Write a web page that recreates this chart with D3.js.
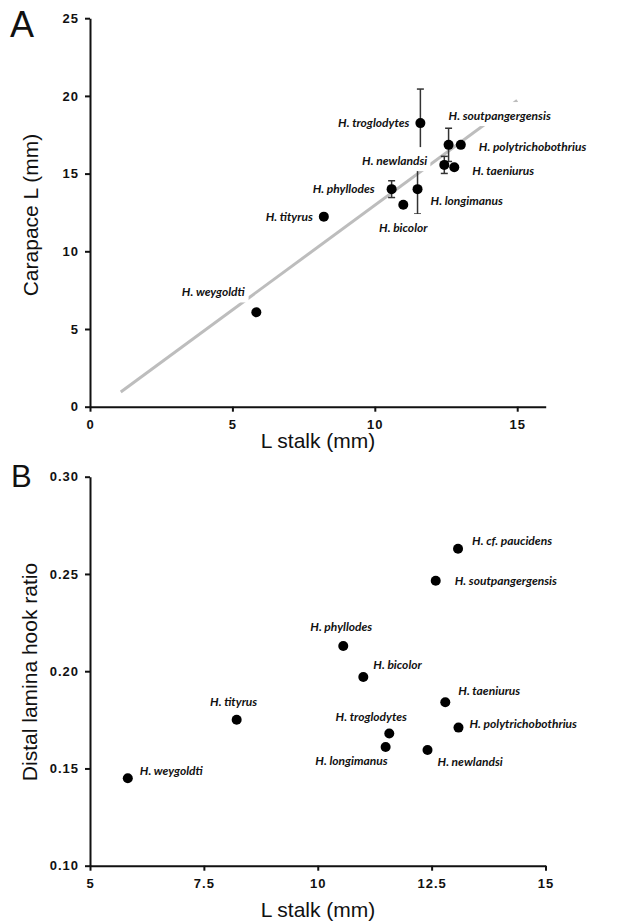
<!DOCTYPE html>
<html>
<head>
<meta charset="utf-8">
<script src="https://cdn.jsdelivr.net/npm/d3@7"></script>
<style>
  body { margin: 0; background: #fff; }
  .tick text { font-family: "Liberation Sans", Arial, sans-serif; font-weight: bold; font-size: 13px; letter-spacing: 1px; fill: #111; }
  .lbl { font-family: Lato, "Open Sans", sans-serif; font-weight: bold; font-style: italic; font-size: 12px; fill: #111; }
  .title { font-family: "Liberation Sans", Arial, sans-serif; font-size: 21px; fill: #111; }
</style>
</head>
<body>
<div id="chart-area"></div>
<script>
// Panel A data: stalk length vs carapace length (with SD)
var namesA = ["H. weygoldti", "H. tityrus", "H. phyllodes", "H. bicolor", "H. longimanus",
              "H. troglodytes", "H. newlandsi", "H. soutpangergensis", "H. polytrichobothrius", "H. taeniurus"];
var stalkA = [5.84, 8.21, 10.59, 11.0, 11.5, 11.6, 12.44, 12.59, 13.02, 12.79];
var carapaceA = [6.08, 12.23, 14.0, 12.99, 14.0, 18.25, 15.56, 16.85, 16.85, 15.41];
var errA = [0, 0, 0.54, 0, 1.6, 2.19, 0.55, 1.07, 0, 0];
var fitX = [1.08, 15];
var fitY = [0.95, 19.7];
var ticksAx = [0, 5, 10, 15];
var ticksAy = [0, 5, 10, 15, 20, 25];

// Panel B data: stalk length vs distal lamina hook ratio
var namesB = ["H. weygoldti", "H. tityrus", "H. phyllodes", "H. bicolor", "H. longimanus",
              "H. troglodytes", "H. newlandsi", "H. soutpangergensis", "H. polytrichobothrius",
              "H. taeniurus", "H. cf. paucidens"];
var stalkB = [5.83, 8.22, 10.56, 11.0, 11.49, 11.57, 12.41, 12.59, 13.09, 12.8, 13.08];
var ratioB = [0.145, 0.175, 0.213, 0.197, 0.161, 0.168, 0.1595, 0.2465, 0.171, 0.184, 0.263];
var ticksBx = [5, 7.5, 10, 12.5, 15];
var ticksBy = [0.10, 0.15, 0.20, 0.25, 0.30];

// label placement (pixels relative to the point): [dx, dy, anchor]
var placeA = [[-43, -20, "middle"], [-11, 0, "end"], [-17, 0, "end"], [0, 23, "middle"], [13, 12, "start"],
              [-11, 0, "end"], [-17, -4, "end"], [0, -29, "start"], [18, 2, "start"], [18, 4, "start"]];
var placeB = [[12, -7, "start"], [-3, -18, "middle"], [-2, -19, "middle"], [10, -12, "start"], [2, 14, "end"],
              [-18, -17, "middle"], [10, 12, "start"], [19, 0, "start"], [11, -4, "start"], [13, -12, "start"],
              [14, -8, "start"]];

var W = 618, H = 923;
var svg = d3.select("#chart-area").append("svg")
    .attr("width", W).attr("height", H)
    .style("background", "#fff");

function drawAxes(g, x, y, xt, yt, xfmt, yfmt) {
    var y0 = y.range()[0];
    g.append("g")
        .attr("class", "x axis")
        .attr("transform", "translate(0," + y0 + ")")
        .call(d3.axisBottom(x).tickValues(xt).tickSize(5).tickPadding(8).tickSizeOuter(0).tickFormat(xfmt));
    g.append("g")
        .attr("class", "y axis")
        .attr("transform", "translate(" + x.range()[0] + ",0)")
        .call(d3.axisLeft(y).tickValues(yt).tickSize(5).tickPadding(6).tickSizeOuter(0).tickFormat(yfmt));
    g.selectAll(".axis path, .axis line").attr("stroke", "#111").attr("stroke-width", 2);
}

function drawLabels(g, names, xs, ys, place, x, y) {
    names.forEach(function(n, i) {
        var p = place[i];
        var lg = g.append("g");
        var t = lg.append("text")
            .attr("class", "lbl")
            .attr("x", x(xs[i]) + p[0])
            .attr("y", y(ys[i]) + p[1])
            .attr("dy", "0.35em")
            .attr("text-anchor", p[2])
            .text(n);
        var b = t.node().getBBox();
        lg.insert("rect", "text")
            .attr("x", b.x - 3).attr("y", b.y - 6)
            .attr("width", b.width + 6).attr("height", b.height + 9)
            .attr("fill", "#fff");
    });
}

// ---------- Panel A ----------
var xA = d3.scaleLinear().domain([0, 16]).range([90, 545.7]);
var yA = d3.scaleLinear().domain([0, 25]).range([406.7, 18.2]);
var gA = svg.append("g");

gA.append("line")
    .attr("x1", xA(fitX[0])).attr("y1", yA(fitY[0]))
    .attr("x2", xA(fitX[1])).attr("y2", yA(fitY[1]))
    .attr("stroke", "#bdbdbd").attr("stroke-width", 3);

drawAxes(gA, xA, yA, ticksAx, ticksAy, d3.format("d"), d3.format("d"));

// error bars
namesA.forEach(function(n, i) {
    if (!errA[i]) return;
    var cx = xA(stalkA[i]);
    var t = yA(carapaceA[i] + errA[i]), b = yA(carapaceA[i] - errA[i]);
    gA.append("line").attr("x1", cx).attr("x2", cx).attr("y1", t).attr("y2", b)
        .attr("stroke", "#333").attr("stroke-width", 1.5);
    [t, b].forEach(function(yy) {
        gA.append("line").attr("x1", cx - 3.5).attr("x2", cx + 3.5).attr("y1", yy).attr("y2", yy)
            .attr("stroke", "#333").attr("stroke-width", 1.5);
    });
});

drawLabels(gA, namesA, stalkA, carapaceA, placeA, xA, yA);

gA.selectAll("circle").data(namesA).enter().append("circle")
    .attr("cx", function(d, i) { return xA(stalkA[i]); })
    .attr("cy", function(d, i) { return yA(carapaceA[i]); })
    .attr("r", 5).attr("fill", "#000");

// titles A
svg.append("text").attr("class", "title").attr("x", 10).attr("y", 37)
    .style("font-size", "36px").text("A");
svg.append("text").attr("class", "title")
    .attr("transform", "translate(31," + 215 + ") rotate(-90)")
    .attr("text-anchor", "middle").attr("dy", "0.35em")
    .text("Carapace L (mm)");
svg.append("text").attr("class", "title")
    .attr("x", 318).attr("y", 441).attr("dy", "0.35em")
    .attr("text-anchor", "middle").text("L stalk (mm)");

// ---------- Panel B ----------
var xB = d3.scaleLinear().domain([5, 15]).range([90, 545.5]);
var yB = d3.scaleLinear().domain([0.10, 0.30]).range([865.7, 476.7]);
var gB = svg.append("g");

drawAxes(gB, xB, yB, ticksBx, ticksBy, function(d) { return d % 1 ? d3.format(".1f")(d) : d3.format("d")(d); }, d3.format(".2f"));

drawLabels(gB, namesB, stalkB, ratioB, placeB, xB, yB);

gB.selectAll("circle").data(namesB).enter().append("circle")
    .attr("cx", function(d, i) { return xB(stalkB[i]); })
    .attr("cy", function(d, i) { return yB(ratioB[i]); })
    .attr("r", 5).attr("fill", "#000");

svg.append("text").attr("class", "title").attr("x", 11).attr("y", 487)
    .style("font-size", "31px").text("B");
svg.append("text").attr("class", "title")
    .attr("transform", "translate(30," + 672 + ") rotate(-90)")
    .attr("text-anchor", "middle").attr("dy", "0.35em")
    .text("Distal lamina hook ratio");
svg.append("text").attr("class", "title")
    .attr("x", 318).attr("y", 910).attr("dy", "0.35em")
    .attr("text-anchor", "middle").text("L stalk (mm)");
</script>
</body>
</html>
